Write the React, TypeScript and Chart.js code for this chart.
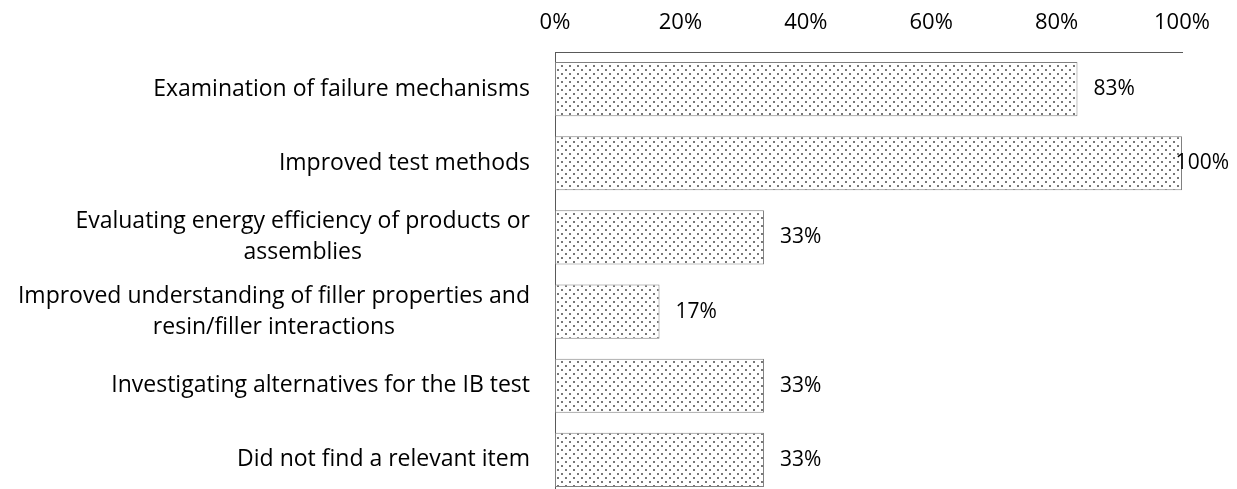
import React, { useEffect, useRef } from "react";
import { Chart, registerables } from "chart.js";

Chart.register(...registerables);

const categories: string[][] = [
  ["Examination of failure mechanisms"],
  ["Improved test methods"],
  ["Evaluating energy efficiency of products or", "assemblies"],
  ["Improved understanding of filler properties and", "resin/filler interactions"],
  ["Investigating alternatives for the IB test"],
  ["Did not find a relevant item"],
];
const values: number[] = [83.33, 100, 33.33, 16.67, 33.33, 33.33];
const valueLabels: string[] = ["83%", "100%", "33%", "17%", "33%", "33%"];
const xTicks: number[] = [0, 20, 40, 60, 80, 100];

const FONT = "'Open Sans', 'Noto Sans', sans-serif";
const CAT_SIZE = 23;
const TICK_SIZE = 22;
const VAL_SIZE = 21;

function makePattern(): CanvasPattern | string {
  const c = document.createElement("canvas");
  c.width = 8;
  c.height = 8;
  const g = c.getContext("2d");
  if (!g) return "#ddd";
  g.fillStyle = "#ffffff";
  g.fillRect(0, 0, 8, 8);
  g.fillStyle = "#777777";
  g.fillRect(1, 1, 2, 2);
  g.fillRect(5, 5, 2, 2);
  const p = g.createPattern(c, "repeat");
  return p || "#ddd";
}

const labelPlugin = {
  id: "customLabels",
  afterDatasetsDraw(chart: any) {
    const ctx = chart.ctx as CanvasRenderingContext2D;
    const yScale = chart.scales.y;
    const area = chart.chartArea;
    const meta = chart.getDatasetMeta(0);
    ctx.save();
    ctx.fillStyle = "#000000";
    ctx.textBaseline = "middle";
    // category labels
    ctx.font = `${CAT_SIZE}px ${FONT}`;
    const lineH = 31;
    categories.forEach((lines, i) => {
      const cy = yScale.getPixelForTick(i);
      const widths = lines.map((l) => ctx.measureText(l).width);
      const bw = Math.max(...widths);
      const right = area.left - 25;
      const cx = right - bw / 2;
      ctx.textAlign = "center";
      lines.forEach((l, j) => {
        const y = cy + (j - (lines.length - 1) / 2) * lineH;
        ctx.fillText(l, cx, y);
      });
    });
    // value labels
    ctx.font = `${VAL_SIZE}px ${FONT}`;
    ctx.textAlign = "left";
    meta.data.forEach((bar: any, i: number) => {
      const txt = valueLabels[i];
      const w = ctx.measureText(txt).width;
      let x = bar.x + 16;
      const maxRight = 1229;
      if (x + w > maxRight) x = maxRight - w;
      ctx.fillText(txt, x, bar.y);
    });
    ctx.restore();
  },
};

export default function App() {
  const ref = useRef<HTMLCanvasElement | null>(null);
  useEffect(() => {
    const canvas = ref.current;
    if (!canvas) return;
    const chart = new Chart(canvas, {
      type: "bar",
      data: {
        labels: categories.map((c) => c.join(" ")),
        datasets: [
          {
            data: values,
            backgroundColor: makePattern() as any,
            borderColor: "#808080",
            borderWidth: 1,
            borderSkipped: false,
            categoryPercentage: 1,
            barPercentage: 0.73,
          },
        ],
      },
      options: {
        indexAxis: "y",
        animation: false,
        responsive: false,
        devicePixelRatio: 1,
        layout: { padding: { left: 555, right: 55, top: 0, bottom: 0 } },
        plugins: { legend: { display: false }, tooltip: { enabled: false } },
        scales: {
          x: {
            position: "top",
            min: 0,
            max: 100,
            afterBuildTicks: (scale: any) => {
              scale.ticks = xTicks.map((v) => ({ value: v }));
            },
            afterFit: (scale: any) => {
              scale.height = 52;
            },
            grid: { display: false, drawTicks: false },
            border: { display: true, color: "#595959", width: 1 },
            ticks: {
              padding: 16,
              color: "#000000",
              font: { family: FONT, size: TICK_SIZE },
              callback: (v: any) => `${v}%`,
              maxRotation: 0,
            },
          },
          y: {
            type: "category",
            offset: true,
            grid: { display: false, drawTicks: false },
            border: { display: true, color: "#595959", width: 1 },
            ticks: { display: false },
            afterFit: (scale: any) => {
              scale.width = 0;
            },
          },
        },
      },
      plugins: [labelPlugin],
    });
    return () => chart.destroy();
  }, []);
  return (
    <div
      style={{
        position: "absolute",
        left: 0,
        top: 0,
        width: 1237,
        height: 489,
        overflow: "hidden",
        background: "#fff",
      }}
    >
      <canvas ref={ref} width={1237} height={497} style={{ display: "block", width: 1237, height: 497 }} />
    </div>
  );
}
